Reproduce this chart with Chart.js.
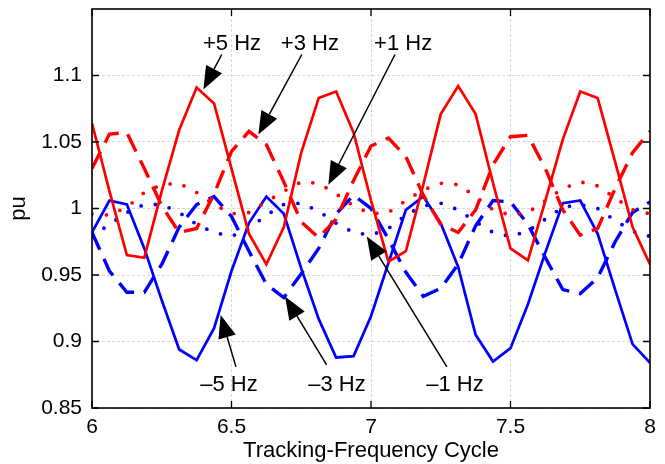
<!DOCTYPE html>
<html>
<head>
<meta charset="utf-8">
<script src="https://cdn.jsdelivr.net/npm/chart.js@4.4.0/dist/chart.umd.min.js"></script>
<style>
  html, body { margin: 0; padding: 0; background: #fff; }
  #wrap { width: 665px; height: 464px; }
</style>
</head>
<body>
<div id="wrap"><canvas id="cycleChart" width="665" height="464"></canvas></div>
<script>
// tracking-frequency cycle samples (x) and the per-unit response for each offset
const cycle = [6, 6.0625, 6.125, 6.1875, 6.25, 6.3125, 6.375, 6.4375, 6.5, 6.5625, 6.625, 6.6875, 6.75, 6.8125, 6.875, 6.9375,
  7, 7.0625, 7.125, 7.1875, 7.25, 7.3125, 7.375, 7.4375, 7.5, 7.5625, 7.625, 7.6875, 7.75, 7.8125, 7.875, 7.9375, 8];

const plus5Hz = [1.064, 1.013, 0.965, 0.963, 1.013, 1.059, 1.091, 1.079, 1.030, 0.981, 0.958, 0.986, 1.042, 1.083, 1.088, 1.057,
  1.006, 0.960, 0.968, 1.018, 1.071, 1.092, 1.071, 1.019, 0.970, 0.961, 1.006, 1.052, 1.088, 1.083, 1.035, 0.986, 0.958];
const plus3Hz = [1.030, 1.056, 1.057, 1.030, 1.002, 0.982, 0.985, 1.011, 1.043, 1.058, 1.048, 1.020, 0.990, 0.978, 0.992, 1.021,
  1.047, 1.053, 1.039, 1.010, 0.988, 0.982, 0.999, 1.033, 1.054, 1.055, 1.030, 0.999, 0.980, 0.985, 1.015, 1.042, 1.058];
const plus1Hz = [0.996, 0.995, 1.001, 1.012, 1.018, 1.019, 1.012, 1.003, 0.996, 0.997, 1.005, 1.013, 1.020, 1.019, 1.011, 1.002,
  0.996, 0.997, 1.006, 1.014, 1.019, 1.018, 1.009, 0.999, 0.995, 0.997, 1.006, 1.015, 1.020, 1.017, 1.008, 0.999, 0.996];
const minus5Hz = [0.982, 1.006, 1.003, 0.970, 0.931, 0.894, 0.886, 0.910, 0.953, 0.989, 1.009, 0.996, 0.955, 0.917, 0.888, 0.889,
  0.919, 0.959, 0.999, 1.009, 0.989, 0.956, 0.905, 0.885, 0.895, 0.928, 0.967, 1.004, 1.006, 0.981, 0.939, 0.898, 0.884];
const minus3Hz = [0.982, 0.953, 0.937, 0.937, 0.958, 0.986, 1.003, 1.009, 0.994, 0.968, 0.943, 0.933, 0.951, 0.970, 0.996, 1.010,
  1.000, 0.977, 0.952, 0.934, 0.940, 0.958, 0.987, 1.006, 1.005, 0.988, 0.963, 0.939, 0.936, 0.948, 0.975, 0.997, 1.005];
const minus1Hz = [0.979, 0.988, 0.997, 1.003, 1.003, 0.997, 0.988, 0.982, 0.979, 0.985, 0.995, 1.003, 1.004, 0.998, 0.989, 0.982,
  0.980, 0.985, 0.995, 1.002, 1.004, 0.999, 0.990, 0.982, 0.979, 0.983, 0.992, 1.001, 1.003, 1.000, 0.991, 0.983, 0.979];

const xTicks = [6, 6.5, 7, 7.5, 8];
const xTickLabels = ["6", "6.5", "7", "7.5", "8"];
const yTicks = [0.85, 0.9, 0.95, 1, 1.05, 1.1];
const yTickLabels = ["0.85", "0.9", "0.95", "1", "1.05", "1.1"];

// arrow labels: text spot, arrow tail, arrow tip (data coords)
const labelTexts = ["+5 Hz", "+3 Hz", "+1 Hz", "\u20135 Hz", "\u20133 Hz", "\u20131 Hz"];
const labelAt = [[6.502, 1.124], [6.781, 1.124], [7.115, 1.124], [6.491, 0.8677], [6.878, 0.8677], [7.301, 0.8677]];
const arrowFrom = [[6.465, 1.1158], [6.752, 1.1158], [7.086, 1.1158], [6.516, 0.8809], [6.841, 0.8824], [7.272, 0.8809]];
const arrowTo = [[6.399, 1.0895], [6.596, 1.0556], [6.847, 1.0179], [6.461, 0.920], [6.692, 0.9338], [6.985, 0.979]];

const RED = "#ff0000", BLUE = "#0000ff";
const FONT = "'Liberation Sans', Arial, sans-serif";

function series(vals) { return cycle.map((x, i) => ({x: x, y: vals[i]})) }

function lineSet(vals, color, style) {
  const ds = {data: series(vals), borderColor: color, backgroundColor: color, pointRadius: 0, fill: false, tension: 0}
  if (style === "solid") { ds.borderWidth = 2.7 }
  if (style === "dash") { ds.borderWidth = 3.4; ds.borderDash = [19, 10] }
  if (style === "dot") { ds.borderWidth = 3.8; ds.borderDash = [0, 14.5]; ds.borderCapStyle = "round" }
  return ds
}

// draws the frame, inward tick marks and the arrow annotations
const extras = {
  id: "extras",
  afterDatasetsDraw(chart) {
    const ctx = chart.ctx, a = chart.chartArea, xs = chart.scales.x, ys = chart.scales.y
    ctx.save()
    ctx.strokeStyle = "#000"
    ctx.lineWidth = 1.6
    ctx.strokeRect(a.left, a.top, a.right - a.left, a.bottom - a.top)
    ctx.lineWidth = 1.3
    ctx.beginPath()
    xTicks.forEach(v => {
      const p = xs.getPixelForValue(v)
      ctx.moveTo(p, a.bottom); ctx.lineTo(p, a.bottom - 7)
      ctx.moveTo(p, a.top); ctx.lineTo(p, a.top + 7)
    })
    yTicks.forEach(v => {
      const p = ys.getPixelForValue(v)
      ctx.moveTo(a.left, p); ctx.lineTo(a.left + 7, p)
      ctx.moveTo(a.right, p); ctx.lineTo(a.right - 7, p)
    })
    ctx.stroke()

    ctx.fillStyle = "#000"
    ctx.font = "22px " + FONT
    ctx.textAlign = "center"
    ctx.textBaseline = "middle"
    labelTexts.forEach((t, i) => {
      ctx.fillText(t, xs.getPixelForValue(labelAt[i][0]), ys.getPixelForValue(labelAt[i][1]))
      const x0 = xs.getPixelForValue(arrowFrom[i][0]), y0 = ys.getPixelForValue(arrowFrom[i][1])
      const x1 = xs.getPixelForValue(arrowTo[i][0]), y1 = ys.getPixelForValue(arrowTo[i][1])
      const ang = Math.atan2(y1 - y0, x1 - x0), len = 23, half = 9
      const bx = x1 - len * Math.cos(ang), by = y1 - len * Math.sin(ang)
      ctx.lineWidth = 1.5
      ctx.beginPath(); ctx.moveTo(x0, y0); ctx.lineTo(bx, by); ctx.stroke()
      ctx.beginPath()
      ctx.moveTo(x1, y1)
      ctx.lineTo(bx + half * Math.sin(ang), by - half * Math.cos(ang))
      ctx.lineTo(bx - half * Math.sin(ang), by + half * Math.cos(ang))
      ctx.closePath(); ctx.fill()
    })
    ctx.restore()
  }
}

new Chart(document.getElementById("cycleChart"), {
  type: "line",
  data: {datasets: [
    lineSet(plus5Hz, RED, "solid"),
    lineSet(plus3Hz, RED, "dash"),
    lineSet(plus1Hz, RED, "dot"),
    lineSet(minus5Hz, BLUE, "solid"),
    lineSet(minus3Hz, BLUE, "dash"),
    lineSet(minus1Hz, BLUE, "dot")
  ]},
  options: {
    responsive: false,
    animation: false,
    devicePixelRatio: 1,
    layout: {padding: {left: 0, right: 15, top: 9, bottom: 0}},
    plugins: {legend: {display: false}, tooltip: {enabled: false}},
    scales: {
      x: {
        type: "linear", min: 6, max: 8,
        afterBuildTicks: s => { s.ticks = xTicks.map(v => ({value: v})) },
        afterFit: s => { s.height = 56; s.paddingLeft = 0; s.paddingRight = 0 },
        ticks: {callback: (v, i) => xTickLabels[i], color: "#000", font: {family: FONT, size: 21}, padding: 7, maxRotation: 0, autoSkip: false},
        grid: {color: "#d8d8d8", lineWidth: 1, drawTicks: false},
        border: {display: false, dash: [3, 2]},
        title: {display: true, text: "Tracking-Frequency Cycle", color: "#000", font: {family: FONT, size: 22}, padding: 0}
      },
      y: {
        type: "linear", min: 0.85, max: 1.15,
        afterBuildTicks: s => { s.ticks = yTicks.map(v => ({value: v})) },
        afterFit: s => { s.width = 92; s.paddingTop = 0; s.paddingBottom = 0 },
        ticks: {callback: (v, i) => yTickLabels[i], color: "#000", font: {family: FONT, size: 21}, padding: 10, autoSkip: false},
        grid: {color: "#d8d8d8", lineWidth: 1, drawTicks: false},
        border: {display: false, dash: [3, 2]},
        title: {display: true, text: "pu", color: "#000", font: {family: FONT, size: 22}, padding: {top: 6, bottom: 0}}
      }
    }
  },
  plugins: [extras]
})
</script>
</body>
</html>
